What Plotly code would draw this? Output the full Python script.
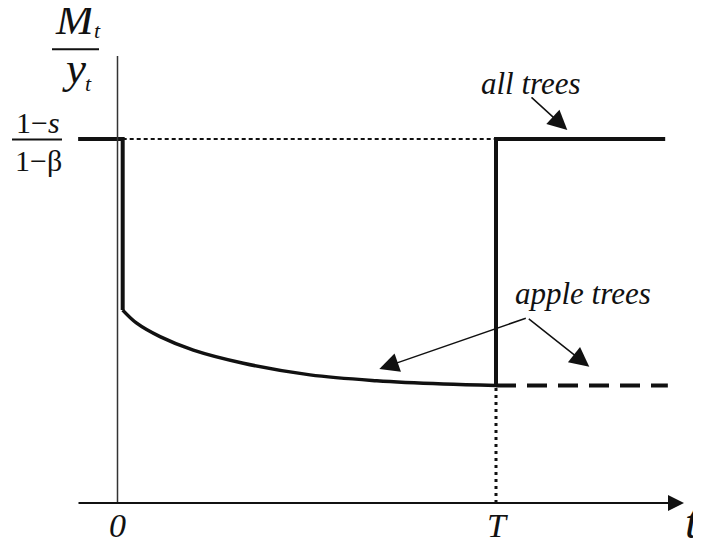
import plotly.graph_objects as go

# values in chart units: t runs 0..T (T = 1), M/y normalised so (1-s)/(1-beta) = 1
T_END = 1.0
FULL_LEVEL = 1.0
APPLE_LEVEL = 0.323
T_START = -0.104
T_RIGHT = 1.447
T_DASH_END = 1.454
DROP_T = 0.0137

curve_t = [0.0137, 0.0507, 0.1123, 0.2003, 0.3324, 0.5086, 0.6848, 0.8608, 1.0]
curve_y = [0.530, 0.494, 0.457, 0.420, 0.384, 0.352, 0.336, 0.327, 0.323]

W, H = 701, 546
OFF = 8  # page body margin
FW, FH = W - OFF, H - OFF
FONT = "Liberation Serif"


def px(x):
    return (x - OFF) / FW


def py(y):
    return 1 - (y - OFF) / FH


fig = go.Figure()

# all trees: flat, drop at 0, then path along curve, jump back at T
fig.add_trace(go.Scatter(
    x=[T_START, DROP_T, DROP_T], y=[FULL_LEVEL, FULL_LEVEL, curve_y[0]],
    mode='lines', line=dict(color='#111', width=4), hoverinfo='skip'
))
fig.add_trace(go.Scatter(
    x=curve_t, y=curve_y, mode='lines',
    line=dict(color='#111', width=3.5, shape='spline', smoothing=1.0), hoverinfo='skip'
))
fig.add_trace(go.Scatter(
    x=[T_END, T_END, T_RIGHT], y=[APPLE_LEVEL, FULL_LEVEL, FULL_LEVEL],
    mode='lines', line=dict(color='#111', width=4), hoverinfo='skip'
))
# apple trees after T (dashed)
fig.add_trace(go.Scatter(
    x=[T_END, T_DASH_END], y=[APPLE_LEVEL, APPLE_LEVEL], mode='lines',
    line=dict(color='#111', width=4, dash='20px,11px'), hoverinfo='skip'
))
# guides
fig.add_trace(go.Scatter(
    x=[DROP_T, T_END], y=[FULL_LEVEL, FULL_LEVEL], mode='lines',
    line=dict(color='#111', width=2, dash='4px,3px'), hoverinfo='skip'
))
fig.add_trace(go.Scatter(
    x=[T_END, T_END], y=[0, APPLE_LEVEL], mode='lines',
    line=dict(color='#111', width=3, dash='3px,4px'), hoverinfo='skip'
))
# y axis
fig.add_trace(go.Scatter(
    x=[0, 0], y=[0, 1.228], mode='lines',
    line=dict(color='#333', width=1.5), hoverinfo='skip'
))

annotations = [
    # x axis with arrowhead
    dict(x=1.4967, y=0, ax=-0.107, ay=0, xref='x', yref='y', axref='x', ayref='y',
         text='', showarrow=True, arrowhead=2, arrowwidth=2, arrowsize=1.6,
         arrowcolor='#111', standoff=0),
    # label arrows
    dict(x=1.1884, y=1.0247, ax=1.0898, ay=1.118, xref='x', yref='y', axref='x', ayref='y',
         text='', showarrow=True, arrowhead=2, arrowwidth=1.5, arrowsize=2.6,
         arrowcolor='#111', standoff=0),
    dict(x=0.6917, y=0.368, ax=1.0827, ay=0.509, xref='x', yref='y', axref='x', ayref='y',
         text='', showarrow=True, arrowhead=2, arrowwidth=1.5, arrowsize=2.6,
         arrowcolor='#111', standoff=0),
    dict(x=1.2465, y=0.3745, ax=1.0827, ay=0.509, xref='x', yref='y', axref='x', ayref='y',
         text='', showarrow=True, arrowhead=2, arrowwidth=1.5, arrowsize=2.6,
         arrowcolor='#111', standoff=0),
]

texts = [
    ('<i>all trees</i>', 531, 83, 31, 'center'),
    ('<i>apple trees</i>', 583, 293, 31, 'center'),
    ('<i>0</i>', 117, 525, 34, 'center'),
    ('<i>T</i>', 497, 525, 34, 'center'),
    ('<i>t</i>', 683, 521, 48, 'left'),
    ('1\u2212<i>s</i>', 38.5, 123, 30, 'center'),
    ('1\u2212\u03b2', 38, 161, 30, 'center'),
    ('<i>M</i>', 75.5, 19, 45, 'center'),
    ('<i>t</i>', 97, 30, 22, 'center'),
    ('<i>y</i>', 73.5, 68, 45, 'center'),
    ('<i>t</i>', 88, 83, 22, 'center'),
]
for txt, x, y, size, anchor in texts:
    annotations.append(dict(
        x=px(x), y=py(y), xref='paper', yref='paper', text=txt, showarrow=False,
        xanchor=anchor, yanchor='middle', font=dict(family=FONT, size=size, color='#111')
    ))

shapes = [
    dict(type='line', xref='paper', yref='paper', x0=px(12), x1=px(62),
         y0=py(139.5), y1=py(139.5), line=dict(color='#111', width=2)),
    dict(type='line', xref='paper', yref='paper', x0=px(52), x1=px(99),
         y0=py(49.3), y1=py(49.3), line=dict(color='#111', width=2)),
]

fig.update_layout(
    width=FW, height=FH,
    margin=dict(l=0, r=0, t=0, b=0),
    paper_bgcolor='white', plot_bgcolor='white',
    showlegend=False,
    xaxis=dict(range=[(OFF - 117.5) / 378.5, (W - 117.5) / 378.5], visible=False, fixedrange=True),
    yaxis=dict(range=[(503 - H) / 364, (503 - OFF) / 364], visible=False, fixedrange=True),
    annotations=annotations,
    shapes=shapes,
)

fig.write_html("out.html")
